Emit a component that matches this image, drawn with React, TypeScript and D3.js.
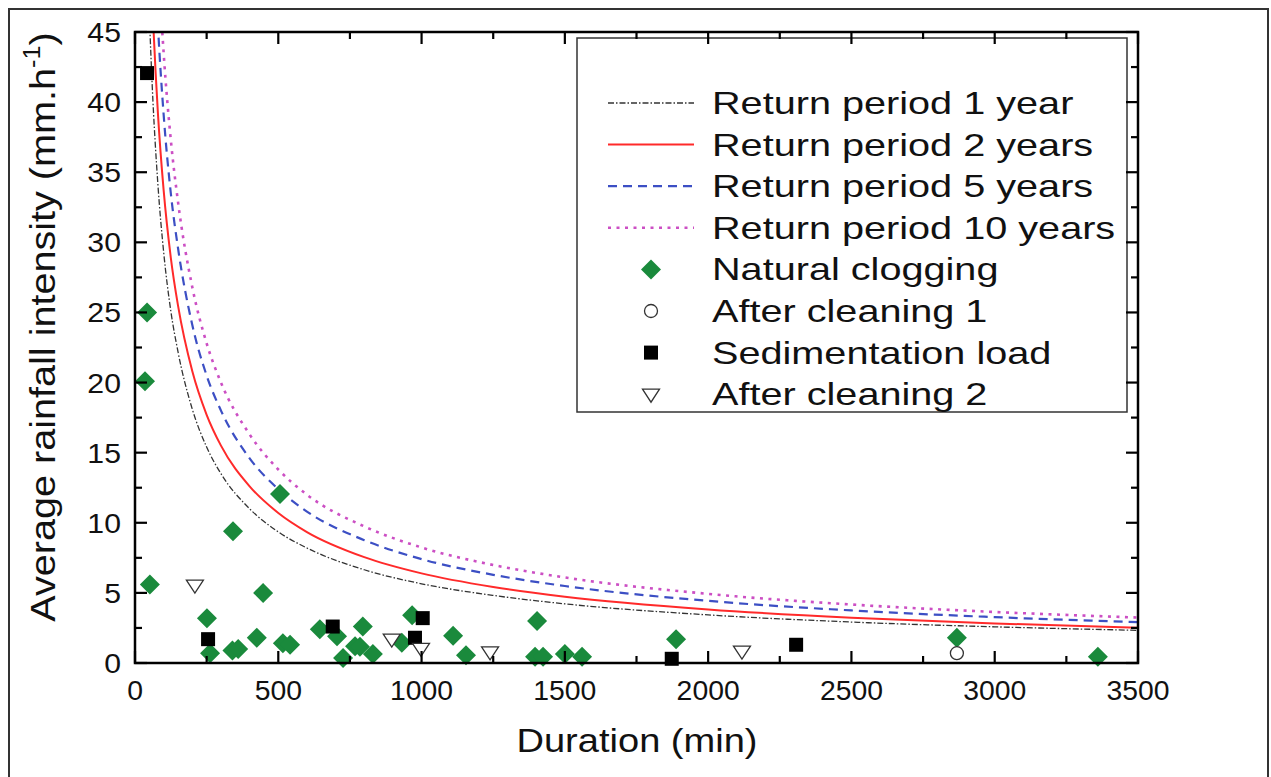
import React from "react";
import * as d3 from "d3";

// ---------- data ----------
const xTicks = [0, 500, 1000, 1500, 2000, 2500, 3000, 3500];
const yTicks = [0, 5, 10, 15, 20, 25, 30, 35, 40, 45];

// IDF curve samples (duration min -> intensity mm/h)
const curveDurations = [50, 60, 80, 100, 125, 150, 200, 250, 300, 400, 500, 600, 800, 1000, 1250, 1500, 2000, 2500, 3000, 3500];
const rp1 = [46.2, 41.2, 34.1, 29.3, 25.1, 22.2, 18.1, 15.4, 13.5, 11.0, 9.35, 8.2, 6.65, 5.65, 4.82, 4.22, 3.43, 2.92, 2.58, 2.33];
const rp2 = [53.2, 47.4, 39.2, 33.7, 28.9, 25.5, 20.8, 17.7, 15.5, 12.6, 10.7, 9.34, 7.55, 6.39, 5.42, 4.73, 3.82, 3.23, 2.82, 2.51];
const rp5 = [61.7, 55.0, 45.5, 39.1, 33.5, 29.6, 24.1, 20.5, 18.0, 14.6, 12.4, 10.8, 8.76, 7.41, 6.29, 5.49, 4.43, 3.75, 3.27, 2.91];
const rp10 = [68.6, 61.1, 50.6, 43.5, 37.3, 32.9, 26.8, 22.8, 20.0, 16.3, 13.8, 12.0, 9.74, 8.24, 6.99, 6.10, 4.93, 4.17, 3.64, 3.24];

const naturalX = [42, 35, 52, 251, 262, 340, 360, 425, 342, 447, 506, 516, 541, 645, 705, 726, 768, 785, 795, 830, 931, 967, 1110, 1155, 1403, 1396, 1424, 1500, 1560, 1888, 2868, 3360];
const naturalY = [25.0, 20.1, 5.6, 3.2, 0.7, 0.9, 1.0, 1.8, 9.4, 5.0, 12.05, 1.4, 1.3, 2.4, 1.9, 0.35, 1.2, 1.15, 2.6, 0.65, 1.45, 3.4, 1.95, 0.55, 3.0, 0.45, 0.45, 0.65, 0.45, 1.7, 1.8, 0.45];

const clean1X = [2868];
const clean1Y = [0.7];

const sedX = [42, 255, 690, 977, 1004, 1873, 2307];
const sedY = [42.07, 1.7, 2.6, 1.8, 3.2, 0.3, 1.3];

const clean2X = [209, 896, 998, 1239, 2118];
const clean2Y = [5.56, 1.7, 1.05, 0.8, 0.85];

const legendLabels = [
  "Return period 1 year",
  "Return period 2 years",
  "Return period 5 years",
  "Return period 10 years",
  "Natural clogging",
  "After cleaning 1",
  "Sedimentation load",
  "After cleaning 2",
];

// ---------- layout ----------
const W = 1271, H = 777;
const L = 135, R = 1138, T = 32, B = 663;
const FONT = "'Liberation Sans', Arial, Helvetica, sans-serif";

const lineStyles = [
  { stroke: "#333", width: 1.3, dash: "6 2 1.5 2" },
  { stroke: "#ff2a2a", width: 2, dash: "" },
  { stroke: "#3c4fc4", width: 2.2, dash: "9 6" },
  { stroke: "#cc4fc4", width: 2.6, dash: "3 5.5" },
];

const diamond = "M0,-10L10,0L0,10L-10,0Z";
const triDown = "M-8.5,-5L8.5,-5L0,8Z";

export default function App() {
  const x = d3.scaleLinear().domain([0, 3500]).range([L, R]);
  const y = d3.scaleLinear().domain([0, 45]).range([B, T]);

  const series = [rp1, rp2, rp5, rp10];
  const lineGen = d3
    .line<[number, number]>()
    .x((d) => x(d[0]))
    .y((d) => y(d[1]))
    .curve(d3.curveMonotoneX);

  const xMinor = d3.range(0, 3501, 250);
  const yMinor = d3.range(0, 45.01, 2.5);
  const isMajorX = (v: number) => v % 500 === 0;
  const isMajorY = (v: number) => v % 5 === 0;

  const legendY = (i: number) => 103 + i * 41.6;
  const lx1 = 608, lx2 = 694, lmx = 651, ltx = 712;

  return (
    <svg
      width={W}
      height={H}
      style={{ position: "absolute", left: 0, top: 0, background: "#fff" }}
      fontFamily={FONT}
    >
      <defs>
        <clipPath id="plotclip">
          <rect x={L} y={T} width={R - L} height={B - T} />
        </clipPath>
      </defs>
      <rect x={0} y={0} width={W} height={H} fill="#fff" />
      {/* outer figure frame */}
      <rect x={9} y={9} width={1259} height={820} fill="none" stroke="#333" strokeWidth={2} />

      {/* curves */}
      <g clipPath="url(#plotclip)">
        {series.map((s, i) => (
          <path
            key={i}
            d={lineGen(curveDurations.map((t, j) => [t, s[j]]) as [number, number][]) || ""}
            fill="none"
            stroke={lineStyles[i].stroke}
            strokeWidth={lineStyles[i].width}
            strokeDasharray={lineStyles[i].dash || undefined}
          />
        ))}
      </g>

      {/* legend box */}
      <rect x={577} y={38} width={550} height={374} fill="#fff" stroke="#333" strokeWidth={1.5} />
      {lineStyles.map((ls, i) => (
        <line
          key={i}
          x1={lx1}
          x2={lx2}
          y1={legendY(i)}
          y2={legendY(i)}
          stroke={ls.stroke}
          strokeWidth={ls.width}
          strokeDasharray={ls.dash || undefined}
        />
      ))}
      <path d={diamond} transform={`translate(${lmx},${legendY(4)})`} fill="#1a8a3c" />
      <circle cx={lmx} cy={legendY(5)} r={6.5} fill="#fff" stroke="#333" strokeWidth={1.3} />
      <rect x={lmx - 7} y={legendY(6) - 7} width={14} height={14} fill="#000" />
      <path d={triDown} transform={`translate(${lmx},${legendY(7)})`} fill="#fff" stroke="#333" strokeWidth={1.3} />
      {legendLabels.map((t, i) => (
        <text
          key={t}
          transform={`translate(${ltx},${legendY(i) + 11}) scale(1.3,1)`}
          fontSize={30.5}
          fill="#111"
        >
          {t}
        </text>
      ))}

      {/* markers */}
      {naturalX.map((t, i) => (
        <path key={"n" + i} d={diamond} transform={`translate(${x(t)},${y(naturalY[i])})`} fill="#1a8a3c" />
      ))}
      {clean1X.map((t, i) => (
        <circle key={"c1" + i} cx={x(t)} cy={y(clean1Y[i])} r={6.5} fill="#fff" stroke="#333" strokeWidth={1.3} />
      ))}
      {sedX.map((t, i) => (
        <rect key={"s" + i} x={x(t) - 7} y={y(sedY[i]) - 7} width={14} height={14} fill="#000" />
      ))}
      {clean2X.map((t, i) => (
        <path key={"c2" + i} d={triDown} transform={`translate(${x(t)},${y(clean2Y[i])})`} fill="#fff" stroke="#333" strokeWidth={1.3} />
      ))}

      {/* axes frame */}
      <rect x={L} y={T} width={R - L} height={B - T} fill="none" stroke="#000" strokeWidth={2.5} />
      {xMinor.map((v) => {
        const len = isMajorX(v) ? 12 : 7;
        return (
          <g key={"xt" + v} stroke="#000" strokeWidth={2.2}>
            <line x1={x(v)} x2={x(v)} y1={B} y2={B - len} />
            <line x1={x(v)} x2={x(v)} y1={T} y2={T + len} />
          </g>
        );
      })}
      {yMinor.map((v) => {
        const len = isMajorY(v) ? 12 : 7;
        return (
          <g key={"yt" + v} stroke="#000" strokeWidth={2.2}>
            <line x1={L} x2={L + len} y1={y(v)} y2={y(v)} />
            <line x1={R} x2={R - len} y1={y(v)} y2={y(v)} />
          </g>
        );
      })}
      {xTicks.map((v) => (
        <text
          key={"xl" + v}
          transform={`translate(${x(v)},${700}) scale(1.05,1)`}
          textAnchor="middle"
          fontSize={27}
          fill="#111"
        >
          {v}
        </text>
      ))}
      {yTicks.map((v) => (
        <text
          key={"yl" + v}
          transform={`translate(${121},${y(v) + 10}) scale(1.12,1)`}
          textAnchor="end"
          fontSize={27}
          fill="#111"
        >
          {v}
        </text>
      ))}

      {/* axis titles */}
      <text transform={`translate(637,752) scale(1.12,1)`} textAnchor="middle" fontSize={34} fill="#111">
        Duration (min)
      </text>
      <text transform={`translate(55,327) rotate(-90) scale(1.1,1)`} textAnchor="middle" fontSize={36} fill="#111">
        Average rainfall intensity (mm.h
        <tspan fontSize={23} dy={-15}>-1</tspan>
        <tspan dy={15}>)</tspan>
      </text>
    </svg>
  );
}
